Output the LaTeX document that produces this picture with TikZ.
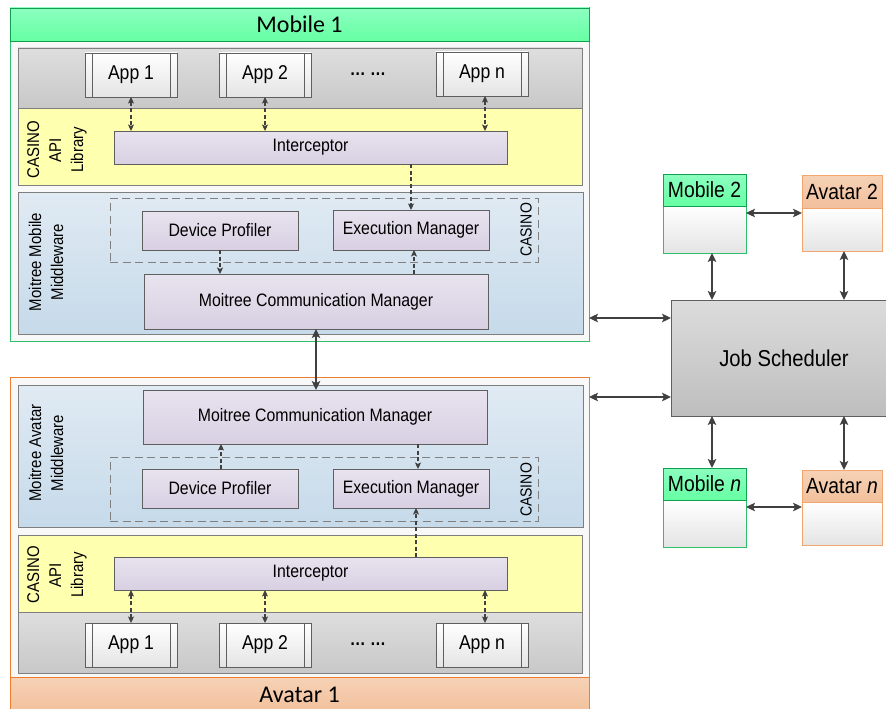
\documentclass[tikz,border=0pt]{standalone}
\usepackage{fontspec}
\setmainfont{Liberation Sans}[FakeStretch=0.88]
\newfontfamily\hdrfont{Carlito}
\usetikzlibrary{arrows.meta}
\definecolor{arr}{HTML}{404040}
\definecolor{mgreen}{HTML}{2EBF6A}
\definecolor{mgreenD}{HTML}{10A050}
\definecolor{mhdr1}{HTML}{8CFFC0}
\definecolor{mhdr2}{HTML}{66FFA3}
\definecolor{aorange}{HTML}{ED7D31}
\definecolor{aorangeL}{HTML}{F2A56E}
\definecolor{ahdr1}{HTML}{F6D2B6}
\definecolor{ahdr2}{HTML}{F2C09C}
\definecolor{outerfill}{HTML}{F8F8F8}
\definecolor{bandline}{HTML}{7F7F7F}
\definecolor{gray1}{HTML}{DEDEDE}
\definecolor{gray2}{HTML}{C8C8C8}
\definecolor{yel}{HTML}{FFFFB0}
\definecolor{blue1}{HTML}{E0EAF3}
\definecolor{blue2}{HTML}{C6DAEA}
\definecolor{pur1}{HTML}{E8E3EF}
\definecolor{pur2}{HTML}{D8D0E2}
\definecolor{compline}{HTML}{5F5F5F}
\definecolor{appbot}{HTML}{E4E4E4}
\definecolor{dashc}{HTML}{808080}
\definecolor{js1}{HTML}{DCDCDC}
\definecolor{js2}{HTML}{BEBEBE}
\tikzset{
  sz/.style 2 args={minimum width=#1pt, minimum height=#2pt, inner sep=0pt, outer sep=0pt},
  outerM/.style={draw=mgreen, line width=1pt, fill=outerfill},
  outerA/.style={draw=aorange, line width=1pt, fill=outerfill},
  hdrM/.style={draw=mgreenD, line width=0.8pt, top color=mhdr1, bottom color=mhdr2, font=\hdrfont\fontsize{24}{28}\selectfont},
  hdrA/.style={draw=aorange, line width=0.8pt, top color=ahdr1, bottom color=ahdr2, font=\hdrfont\fontsize{24}{28}\selectfont},
  band/.style={draw=bandline, line width=0.8pt},
  grayband/.style={band, top color=gray1, bottom color=gray2},
  yelband/.style={band, fill=yel},
  bluband/.style={band, top color=blue1, bottom color=blue2},
  comp/.style={draw=compline, line width=0.8pt, top color=pur1, bottom color=pur2, font=\fontsize{18}{21}\selectfont},
  appbox/.style={draw=compline, line width=0.8pt, top color=white, bottom color=appbot, font=\fontsize{20}{24}\selectfont,
    path picture={\draw[compline, line width=0.8pt] ([xshift=7pt]path picture bounding box.north west) -- ([xshift=7pt]path picture bounding box.south west);
                  \draw[compline, line width=0.8pt] ([xshift=-7pt]path picture bounding box.north east) -- ([xshift=-7pt]path picture bounding box.south east);}},
  dashbox/.style={draw=dashc, line width=1pt, dash pattern=on 8pt off 4.5pt},
  darr/.style={draw=arr, line width=1.1pt, dash pattern=on 4pt off 2.5pt, -{Stealth[length=6.5pt,width=6pt,inset=1.5pt]}},
  dbarr/.style={draw=arr, line width=1.1pt, dash pattern=on 4pt off 2.5pt, {Stealth[length=6.5pt,width=6pt,inset=1.5pt]}-{Stealth[length=6.5pt,width=6pt,inset=1.5pt]}},
  barr/.style={draw=arr, line width=2.4pt, {Stealth[length=9pt,width=8.5pt,inset=2pt]}-{Stealth[length=9pt,width=8.5pt,inset=2pt]}},
  rotlab/.style={rotate=90, align=center, inner sep=0pt, font=\fontsize{17}{22}\selectfont},
  smhdrM/.style={draw=mgreenD, line width=1pt, top color=mhdr1, bottom color=mhdr2, font=\fontsize{22}{26}\selectfont},
  smbodyM/.style={draw=mgreen, line width=1pt, top color=white, bottom color=appbot},
  smhdrA/.style={draw=aorangeL, line width=1pt, top color=ahdr1, bottom color=ahdr2, font=\fontsize{22}{26}\selectfont},
  smbodyA/.style={draw=aorangeL, line width=1pt, top color=white, bottom color=appbot},
  jsbox/.style={draw=compline, line width=1pt, top color=js1, bottom color=js2, font=\fontsize{23}{26}\selectfont},
  plain/.style={inner sep=0pt}
}
\begin{document}
\begin{tikzpicture}[x=1pt,y=-1pt]
\useasboundingbox (0,0) rectangle (886,709);

% ---------------- Mobile 1 ----------------
\node[outerM, sz={579}{333}] (m1) at (299.5,174.5) {};
\node[hdrM, sz={579}{33}] (m1h) at (299.5,24.5) {Mobile 1};
\node[grayband, sz={564}{60}] (m1g) at (300,78) {};
\node[yelband, sz={564}{77}] (m1y) at (300,146.5) {};
\node[bluband, sz={565}{142}] (m1b) at (300.5,263) {};
\node[appbox, sz={92}{44}] (m1a1) at (131,75) {App 1};
\node[appbox, sz={92}{44}] (m1a2) at (265,75) {App 2};
\node[plain, font=\fontsize{18}{20}\selectfont\bfseries] (m1dots) at (368,74) {… …};
\node[appbox, sz={92}{44}] (m1an) at (482,74) {App n};
\node[comp, sz={393}{33}] (m1ic) at (310.5,147.5) {Interceptor};
\node[rotlab] (m1yl) at (57,150) {CASINO\\API\\Library};
\node[dashbox, sz={428}{64}] (m1d) at (324,230) {};
\node[comp, sz={156}{39}] (m1dp) at (220,230.5) {Device Profiler};
\node[comp, sz={156}{40}] (m1em) at (411,230) {Execution Manager};
\node[rotlab, font=\fontsize{16}{20}\selectfont] (m1cas) at (526,230) {CASINO};
\node[comp, sz={344}{55}] (m1cm) at (316,301.5) {Moitree Communication Manager};
\node[rotlab] (m1bl) at (46,262) {Moitree Mobile\\Middleware};

\draw[dbarr] (m1a1.south) -- (m1a1.south |- m1ic.north);
\draw[dbarr] (m1a2.south) -- (m1a2.south |- m1ic.north);
\draw[dbarr] ([xshift=3pt]m1an.south) -- ([xshift=3pt]m1an.south |- m1ic.north);
\draw[darr] (m1ic.south -| m1em.north) -- (m1em.north);
\draw[darr] (m1dp.south) -- (m1dp.south |- m1cm.north);
\draw[darr] ([xshift=3pt]m1cm.north -| m1em.south) -- ([xshift=3pt]m1em.south);

% ---------------- Avatar 1 ----------------
\node[outerA, sz={579}{335}] (a1) at (299.5,544.5) {};
\node[hdrA, sz={579}{35}] (a1h) at (299.5,694.5) {Avatar 1};
\node[bluband, sz={565}{142}] (a1b) at (300.5,456) {};
\node[yelband, sz={564}{77}] (a1y) at (300,573.5) {};
\node[grayband, sz={564}{61}] (a1g) at (300,642.5) {};
\node[comp, sz={344}{54}] (a1cm) at (315,417) {Moitree Communication Manager};
\node[dashbox, sz={428}{64}] (a1d) at (324,489) {};
\node[comp, sz={156}{39}] (a1dp) at (220,488.5) {Device Profiler};
\node[comp, sz={156}{39}] (a1em) at (411,488.5) {Execution Manager};
\node[rotlab, font=\fontsize{16}{20}\selectfont] (a1cas) at (526,490) {CASINO};
\node[rotlab] (a1bl) at (46,453) {Moitree Avatar\\Middleware};
\node[comp, sz={393}{33}] (a1ic) at (310.5,573.5) {Interceptor};
\node[rotlab] (a1yl) at (57,575) {CASINO\\API\\Library};
\node[appbox, sz={92}{44}] (a1a1) at (131,645) {App 1};
\node[appbox, sz={92}{44}] (a1a2) at (265,645) {App 2};
\node[plain, font=\fontsize{18}{20}\selectfont\bfseries] (a1dots) at (368,644) {… …};
\node[appbox, sz={92}{44}] (a1an) at (482,645) {App n};

\draw[dbarr] (a1a1.north) -- (a1a1.north |- a1ic.south);
\draw[dbarr] (a1a2.north) -- (a1a2.north |- a1ic.south);
\draw[dbarr] ([xshift=3pt]a1an.north) -- ([xshift=3pt]a1an.north |- a1ic.south);
\draw[darr] ([xshift=5pt]a1ic.north -| a1em.south) -- ([xshift=5pt]a1em.south);
\draw[darr] ([xshift=1pt]a1dp.north) -- ([xshift=1pt]a1dp.north |- a1cm.south);
\draw[darr] ([xshift=7pt]a1cm.south -| a1em.north) -- ([xshift=7pt]a1em.north);

% Mobile 1 <-> Avatar 1
\draw[barr] (m1cm.south) -- (m1cm.south |- a1cm.north);

% ---------------- Right side ----------------
\node[jsbox, sz={226}{116}] (js) at (784,358) {Job Scheduler};

\node[smbodyM, sz={83}{47}] (m2b) at (704.5,229.5) {};
\node[smhdrM, sz={83}{32}] (m2h) at (704.5,190) {Mobile 2};
\node[smbodyA, sz={80}{43}] (a2b) at (842,229.5) {};
\node[smhdrA, sz={80}{33}] (a2h) at (842,191.5) {Avatar 2};

\node[smbodyM, sz={83}{47}] (mnb) at (704.5,523.5) {};
\node[smhdrM, sz={83}{32}] (mnh) at (704.5,484) {Mobile {\itshape n}};
\node[smbodyA, sz={80}{43}] (anb) at (842,523.5) {};
\node[smhdrA, sz={80}{32}] (anh) at (842,486) {Avatar {\itshape n}};

\draw[barr] ([yshift=40pt]js.west -| m1.east) -- ([yshift=40pt]js.west);
\draw[barr] ([yshift=-39pt]js.west -| a1.east) -- ([yshift=-39pt]js.west);
\draw[barr] ([xshift=7.5pt]m2b.south) -- ([xshift=7.5pt]m2b.south |- js.north);
\draw[barr] ([xshift=2pt]a2b.south) -- ([xshift=2pt]a2b.south |- js.north);
\draw[barr] ([yshift=16.5pt]m2b.east) -- ([yshift=16.5pt]m2b.east -| a2b.west);
\draw[barr] ([xshift=7.5pt]mnh.north) -- ([xshift=7.5pt]mnh.north |- js.south);
\draw[barr] ([xshift=2pt]anh.north) -- ([xshift=2pt]anh.north |- js.south);
\draw[barr] ([yshift=16.5pt]mnb.east) -- ([yshift=16.5pt]mnb.east -| anb.west);
\end{tikzpicture}
\end{document}
